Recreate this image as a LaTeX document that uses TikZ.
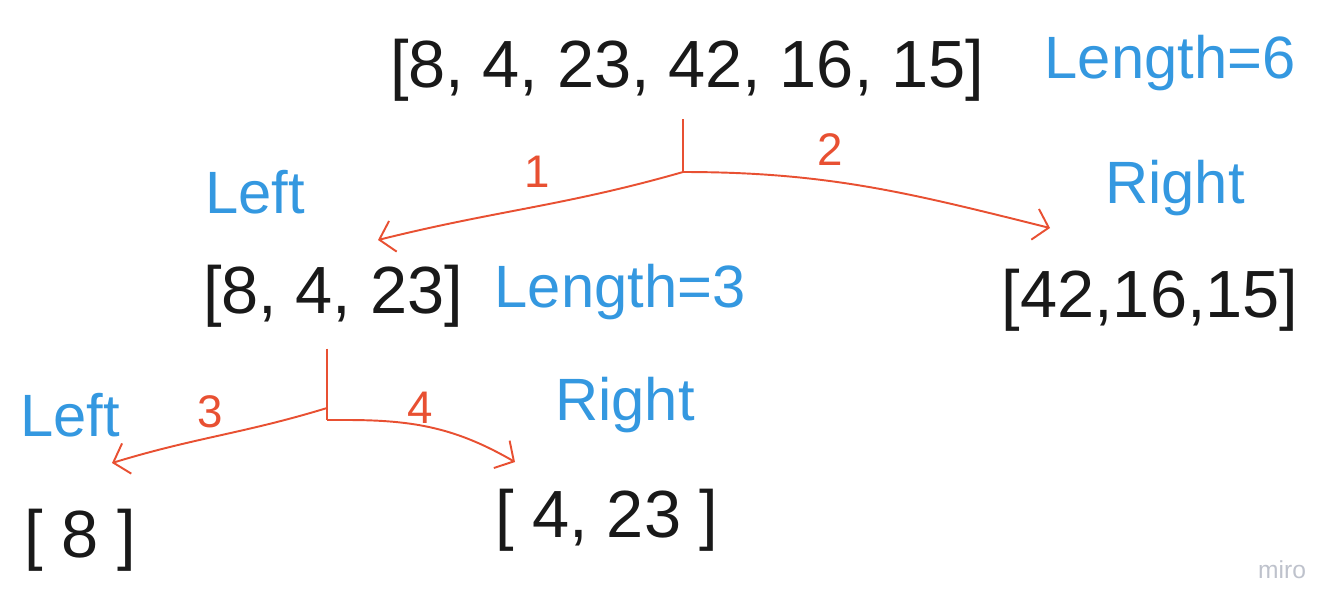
\documentclass[tikz,border=0pt]{standalone}
\usepackage{fontspec}
\setmainfont{Liberation Sans}
\usepackage{xcolor}
\usetikzlibrary{arrows.meta}
\definecolor{penblue}{RGB}{52,152,224}
\definecolor{penred}{RGB}{232,80,50}
\definecolor{mirogray}{RGB}{190,194,204}
\tikzset{
  list/.style={font=\fontsize{38}{42}\selectfont, text=black!90, inner sep=0pt},
  note/.style={font=\fontsize{34}{38}\selectfont, text=penblue, inner sep=0pt},
  num/.style={font=\fontsize{26}{30}\selectfont, text=penred, inner sep=0pt},
  split/.style={draw=penred, line width=1.1pt},
  branch/.style={split, -{Straight Barb[length=8pt,width=18pt]}},
}

\begin{document}
\begin{tikzpicture}[x=0.02cm,y=-0.02cm]
  \useasboundingbox (0,0) rectangle (1334,606);
  % the whole array
  \node[list] (all) at (687,70) {[8, 4, 23, 42, 16, 15]};
  \node[note] (len6) at (1170,63) {Length=6};
  % first split
  \coordinate (fork1) at (683,172);
  \coordinate (tip1l) at (378,240);
  \coordinate (tip1r) at (1050,228);
  \draw[split, shorten <=10pt] (all.south -| fork1) -- (fork1);
  \draw[branch] (fork1) to[out=196,in=14] (tip1l);
  \draw[branch] (fork1) to[out=0,in=166] (tip1r);
  \node[num] (n1) at (537,172) {1};
  \node[num] (n2) at (830,150) {2};
  \node[note] (left1) at (255,192) {Left};
  \node[note] (right1) at (1175,188) {Right};
  % halves
  \node[list] (half1) at (333,296) {[8, 4, 23]};
  \node[note] (len3) at (620,292) {Length=3};
  \node[list] (half2) at (1150,300) {[42,16,15]};
  % second split
  \coordinate (fork2) at (327,420);
  \coordinate (fork2l) at (327,408);
  \coordinate (tip2l) at (112,463);
  \coordinate (tip2r) at (515,462);
  \draw[split, shorten <=12pt] (half1.south -| fork2) -- (fork2);
  \draw[branch] (fork2l) to[out=197,in=17] (tip2l);
  \draw[branch] (fork2) -- ++(20,0) to[out=0,in=150] (tip2r);
  \node[num] (n3) at (210,412) {3};
  \node[num] (n4) at (420,408) {4};
  \node[note] (left2) at (70,415) {Left};
  \node[note] (right2) at (625,405) {Right};
  % single elements
  \node[list] (quarter1) at (80,540) {[ 8 ]};
  \node[list] (quarter2) at (607,520) {[ 4, 23 ]};
  \node[font=\fontsize{14}{16}\selectfont, text=mirogray, inner sep=0pt] (brand) at (1282,570) {miro};
\end{tikzpicture}
\end{document}
